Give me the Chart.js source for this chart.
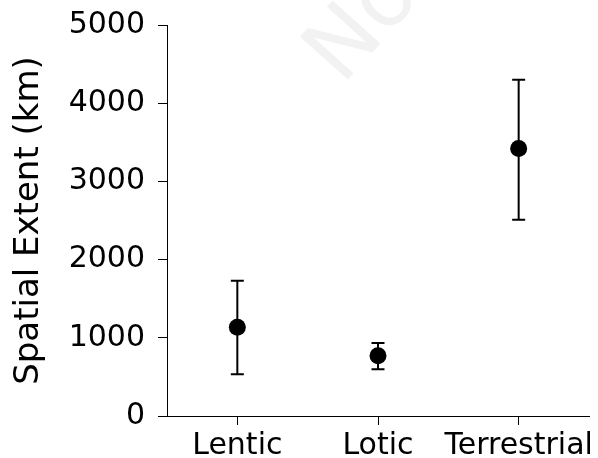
<!DOCTYPE html>
<html lang="en">
<head>
  <meta charset="UTF-8">
  <title>Spatial Extent</title>
  <script src="https://cdn.jsdelivr.net/npm/chart.js"></script>
  <style>
    html, body { margin: 0; padding: 0; background: #fff; }
    #wrap { width: 598px; height: 458px; }
  </style>
</head>
<body>
  <div id="wrap"><canvas id="myChart"></canvas></div>

  <script>
    // Data
    const categories = ['Lentic', 'Lotic', 'Terrestrial'];
    const means = [1136, 769, 3420];
    const lower = [534, 598, 2511];
    const upper = [1729, 935, 4300];
    const yTicks = [0, 1000, 2000, 3000, 4000, 5000];

    const FONT = 'DejaVu Sans';

    // Faint watermark behind the plot
    const watermark = {
      id: 'watermark',
      beforeDraw(chart) {
        const ctx = chart.ctx;
        ctx.save();
        ctx.translate(342, 86);
        ctx.rotate(-48 * Math.PI / 180);
        ctx.fillStyle = '#f2f2f2';
        ctx.font = '88px "' + FONT + '"';
        ctx.textBaseline = 'alphabetic';
        ctx.fillText('Not peer reviewed', 0, 0);
        ctx.restore();
      }
    };

    // Error bars drawn through the scales, under the points
    const errorBars = {
      id: 'errorBars',
      beforeDatasetsDraw(chart) {
        const ctx = chart.ctx;
        const x = chart.scales.x;
        const y = chart.scales.y;
        ctx.save();
        ctx.strokeStyle = '#000';
        ctx.lineWidth = 2;
        categories.forEach((c, i) => {
          const px = x.getPixelForValue(i);
          const top = y.getPixelForValue(upper[i]);
          const bot = y.getPixelForValue(lower[i]);
          ctx.beginPath();
          ctx.moveTo(px, top); ctx.lineTo(px, bot);
          ctx.moveTo(px - 6.5, top); ctx.lineTo(px + 6.5, top);
          ctx.moveTo(px - 6.5, bot); ctx.lineTo(px + 6.5, bot);
          ctx.stroke();
        });
        ctx.restore();
      }
    };

    const ctx = document.getElementById('myChart').getContext('2d');
    new Chart(ctx, {
      type: 'line',
      data: {
        labels: categories,
        datasets: [{
          data: means,
          showLine: false,
          pointRadius: 8.5,
          pointHoverRadius: 8.5,
          pointBackgroundColor: '#000',
          pointBorderColor: '#000',
          pointBorderWidth: 0
        }]
      },
      options: {
        responsive: true,
        maintainAspectRatio: false,
        animation: false,
        events: [],
        layout: { padding: { top: 25, right: 9, left: 9, bottom: 0 } },
        plugins: {
          legend: { display: false },
          tooltip: { enabled: false }
        },
        scales: {
          x: {
            type: 'category',
            offset: true,
            grid: {
              drawOnChartArea: false,
              drawTicks: true,
              tickLength: 9,
              tickColor: '#000',
              lineWidth: 1
            },
            border: { display: true, color: '#000', width: 1 },
            ticks: {
              color: '#000',
              font: { family: FONT, size: 30 },
              padding: 3,
              maxRotation: 0,
              autoSkip: false
            },
            afterFit(scale) {
              scale.height = 42;
              scale.paddingLeft = 0;
              scale.paddingRight = 0;
            }
          },
          y: {
            min: 0,
            max: 5000,
            afterBuildTicks(scale) {
              scale.ticks = yTicks.map(v => ({ value: v }));
            },
            grid: {
              drawOnChartArea: false,
              drawTicks: true,
              tickLength: 9,
              tickColor: '#000',
              lineWidth: 1
            },
            border: { display: true, color: '#000', width: 1 },
            ticks: {
              color: '#000',
              font: { family: FONT, size: 30 },
              padding: 13,
              callback: v => String(v)
            },
            title: {
              display: true,
              text: 'Spatial Extent (km)',
              color: '#000',
              font: { family: FONT, size: 34 },
              padding: { top: 0, bottom: 4 }
            },
            afterFit(scale) {
              scale.width = 158;
              scale.paddingTop = 0;
              scale.paddingBottom = 0;
            }
          }
        }
      },
      plugins: [watermark, errorBars]
    });
  </script>
</body>
</html>
